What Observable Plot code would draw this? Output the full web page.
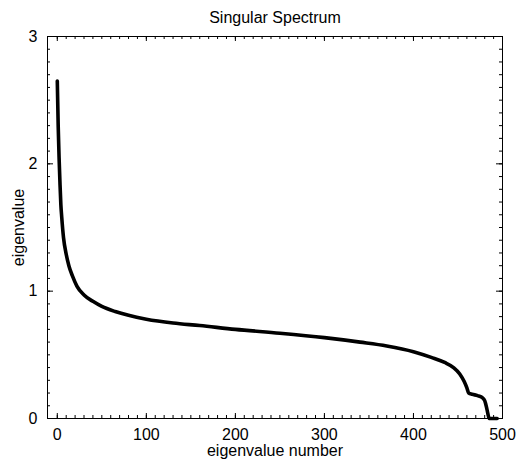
<!DOCTYPE html>
<html>
<head>
<meta charset="utf-8">
<script src="https://cdn.jsdelivr.net/npm/d3@7"></script>
<script src="https://cdn.jsdelivr.net/npm/@observablehq/plot@0.6"></script>
<style>
  html, body { margin: 0; padding: 0; background: #fff; }
  svg { font-family: "Liberation Sans", Arial, sans-serif; }
</style>
</head>
<body>
<div id="chart"></div>
<script>
const title = "Singular Spectrum";
const xLabel = "eigenvalue number";
const yLabel = "eigenvalue";

const eigenNumber = [0, 1, 2, 3, 4, 5, 7, 10, 13, 17, 22, 30, 40, 50, 65, 80, 100, 130, 160, 200, 250, 300, 340, 370, 400, 420, 435, 445, 452, 457, 460, 462, 466, 472, 477, 480, 482, 483.5, 485, 490, 494];
const eigenValue  = [2.65, 2.3, 2.05, 1.85, 1.68, 1.58, 1.42, 1.29, 1.2, 1.12, 1.04, 0.97, 0.92, 0.88, 0.84, 0.81, 0.78, 0.75, 0.73, 0.70, 0.67, 0.635, 0.60, 0.57, 0.525, 0.48, 0.44, 0.40, 0.35, 0.29, 0.24, 0.2, 0.19, 0.18, 0.165, 0.14, 0.09, 0.04, 0, 0, 0];

const xMajor = [0, 100, 200, 300, 400, 500];
const xMinor = d3.range(0, 501, 10);
const yMajor = [0, 1, 2, 3];
const yMinor = d3.range(0, 31).map(d => d / 10);

const data = eigenNumber.map((n, i) => ({n, v: eigenValue[i]}));

const W = 516, H = 462, ML = 47, MR = 14, MT = 36, MB = 44;
const FW = W - ML - MR, FH = H - MT - MB;

// inward ticks: full-frame ticks trimmed by insets to a few pixels at one edge
const tx = (vals, edge, len) => Plot.tickX(vals, {x: d => d, stroke: "#000", strokeWidth: 1,
  insetTop: edge === "bottom" ? FH - len : 0, insetBottom: edge === "top" ? FH - len : 0});
const ty = (vals, edge, len) => Plot.tickY(vals, {y: d => d, stroke: "#000", strokeWidth: 1,
  insetRight: edge === "left" ? FW - len : 0, insetLeft: edge === "right" ? FW - len : 0});

const chart = Plot.plot({
  width: W,
  height: H,
  marginLeft: ML,
  marginRight: MR,
  marginTop: MT,
  marginBottom: MB,
  style: {fontFamily: "Liberation Sans, Arial, sans-serif", fontSize: "16px", background: "#fff", color: "#000"},
  x: {domain: [-11, 500]},
  y: {domain: [0, 3]},
  marks: [
    Plot.frame({stroke: "#000", strokeWidth: 1}),
    // labels
    Plot.axisX(xMajor, {anchor: "bottom", tickSize: 0, tickPadding: 10, label: null, fontSize: 16, tickFormat: d => String(d)}),
    Plot.axisY(yMajor, {anchor: "left", tickSize: 0, tickPadding: 10, label: null, fontSize: 16, tickFormat: d => String(d)}),
    // inward ticks
    tx(xMinor, "bottom", 3),
    tx(xMajor, "bottom", 5),
    tx(xMinor, "top", 3),
    tx(xMajor, "top", 5),
    ty(yMinor, "left", 3),
    ty(yMajor, "left", 6),
    ty(yMinor, "right", 3),
    ty(yMajor, "right", 6),
    // curve
    Plot.line(data, {x: "n", y: "v", stroke: "#000", strokeWidth: 3.6, curve: "monotone-x", strokeLinejoin: "round"}),
    // texts
    Plot.text([title], {frameAnchor: "top", dy: -14, lineAnchor: "bottom", fontSize: 16, fill: "#000"}),
    Plot.text([xLabel], {frameAnchor: "bottom", dy: 37, lineAnchor: "bottom", fontSize: 16, fill: "#000"}),
    Plot.text([yLabel], {frameAnchor: "left", dx: -29, rotate: -90, textAnchor: "middle", lineAnchor: "middle", fontSize: 16, fill: "#000"})
  ]
});
document.getElementById("chart").appendChild(chart);
</script>
</body>
</html>
